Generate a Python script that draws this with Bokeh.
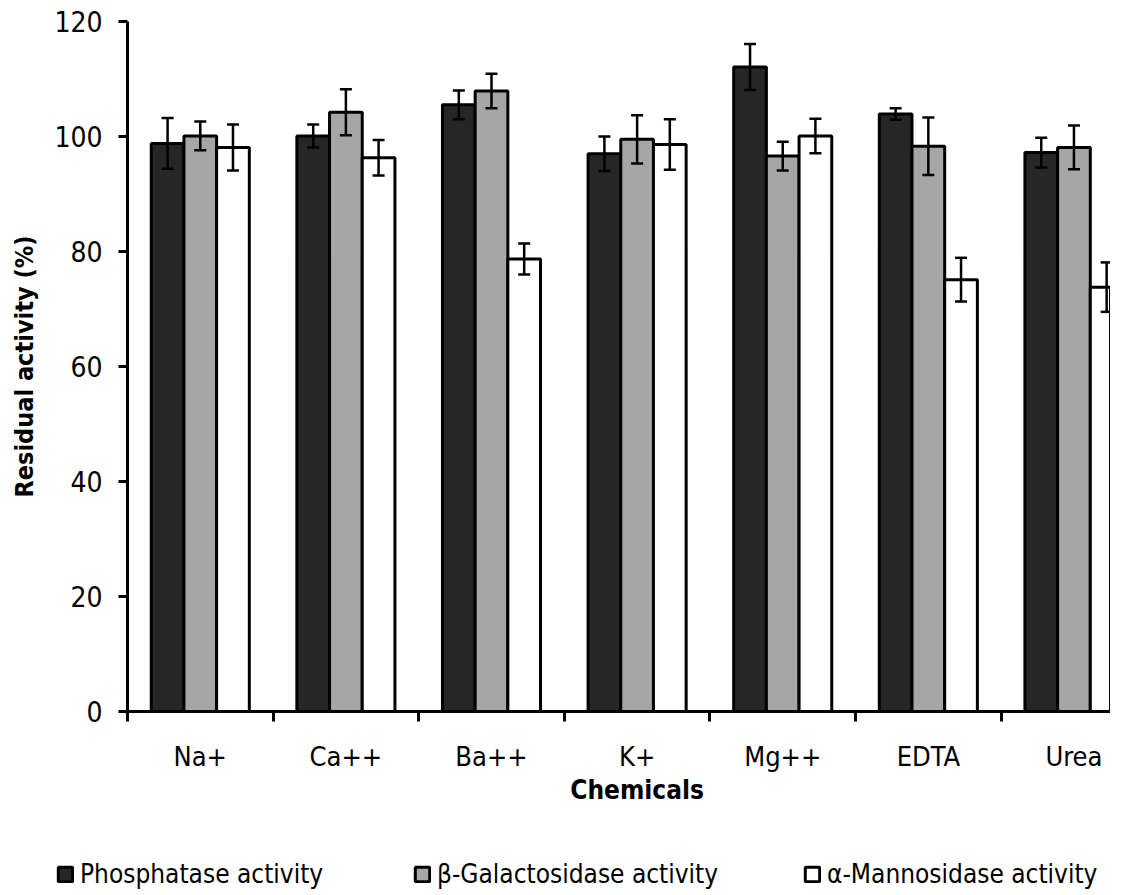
import numpy as np
from bokeh.plotting import figure
from bokeh.models import (ColumnDataSource, FixedTicker, Range1d, Whisker, TeeHead,
                          Legend, LegendItem, Label)
from bokeh.transform import dodge
from bokeh.embed import file_html
from bokeh.resources import INLINE

categories = ["Na+", "Ca++", "Ba++", "K+", "Mg++", "EDTA", "Urea"]
phosphatase = [98.8, 100.1, 105.5, 97.0, 112.1, 103.9, 97.2]
phosphatase_err = [4.4, 2.0, 2.5, 3.0, 4.0, 1.0, 2.6]
galactosidase = [100.1, 104.2, 107.9, 99.5, 96.6, 98.3, 98.1]
galactosidase_err = [2.5, 4.0, 3.0, 4.2, 2.5, 5.0, 3.8]
mannosidase = [98.1, 96.3, 78.7, 98.6, 100.1, 75.1, 73.8]
mannosidase_err = [4.0, 3.1, 2.7, 4.4, 3.0, 3.8, 4.3]
y_ticks = [0, 20, 40, 60, 80, 100, 120]
series_labels = ["Phosphatase activity", "\u03b2-Galactosidase activity", "\u03b1-Mannosidase activity"]

FONT = "DejaVu Sans Condensed, Liberation Sans, sans-serif"

xc = np.arange(len(categories)) + 0.5
src = ColumnDataSource(dict(
    xc=xc,
    p=phosphatase, p_lo=np.array(phosphatase) - np.array(phosphatase_err), p_hi=np.array(phosphatase) + np.array(phosphatase_err),
    g=galactosidase, g_lo=np.array(galactosidase) - np.array(galactosidase_err), g_hi=np.array(galactosidase) + np.array(galactosidase_err),
    m=mannosidase, m_lo=np.array(mannosidase) - np.array(mannosidase_err), m_hi=np.array(mannosidase) + np.array(mannosidase_err),
))

# the frame covers the whole canvas; axes are fixed inside it
p = figure(width=1110, height=889, output_backend="svg", toolbar_location=None,
           x_range=Range1d(-0.872, 6.751), y_range=Range1d(-30.96, 123.65),
           min_border_left=0, min_border_top=0, min_border_bottom=0, min_border_right=0)
p.outline_line_color = None
p.xgrid.visible = False
p.ygrid.visible = False
p.background_fill_color = "white"
p.border_fill_color = "white"

bw = 0.2245
off = 0.2245
fills = ["#262626", "#a6a6a6", "#ffffff"]
cols = ["p", "g", "m"]
rends = []
for i, (c, f) in enumerate(zip(cols, fills)):
    r = p.vbar(x=dodge("xc", (i - 1) * off, range=p.x_range), top=c, bottom=0, width=bw,
               source=src, fill_color=f, line_color="black", line_width=3)
    rends.append(r)
for i, c in enumerate(cols):
    w = Whisker(base=dodge("xc", (i - 1) * off, range=p.x_range), lower=c + "_lo", upper=c + "_hi",
                source=src, line_color="black", line_width=2.5, level="overlay",
                upper_head=TeeHead(size=12, line_width=2.5, line_color="black"),
                lower_head=TeeHead(size=12, line_width=2.5, line_color="black"))
    p.add_layout(w)

# y axis fixed at x = 0
ya = p.yaxis[0]
ya.fixed_location = 0
ya.bounds = (0, 120)
ya.ticker = FixedTicker(ticks=y_ticks)
ya.axis_line_width = 3
ya.major_tick_line_width = 3
ya.major_tick_out = 9
ya.major_tick_in = 0
ya.minor_tick_line_color = None
ya.major_label_text_font = FONT
ya.major_label_text_font_size = "28px"
ya.major_label_text_color = "black"
ya.major_label_standoff = 16

# x axis fixed at y = 0
xa = p.xaxis[0]
xa.fixed_location = 0
xa.bounds = (0, len(categories))
xa.ticker = FixedTicker(ticks=list(xc), minor_ticks=list(range(len(categories) + 1)))
xa.major_label_overrides = {float(x): c for x, c in zip(xc, categories)}
xa.axis_line_width = 3
xa.major_tick_line_color = None
xa.major_tick_out = 0
xa.major_tick_in = 0
xa.minor_tick_line_width = 3
xa.minor_tick_line_color = "black"
xa.minor_tick_out = 10
xa.minor_tick_in = 0
xa.major_label_text_font = FONT
xa.major_label_text_font_size = "27px"
xa.major_label_text_color = "black"
xa.major_label_standoff = 20

p.add_layout(Label(x=3.5, y=-13.6, text="Chemicals", text_font=FONT, text_font_style="bold",
                   text_font_size="26px", text_align="center", text_baseline="middle",
                   text_color="black"))
p.add_layout(Label(x=-0.71, y=60, text="Residual activity (%)", text_font=FONT,
                   text_font_style="bold", text_font_size="25px", text_align="center",
                   text_baseline="middle", angle=np.pi / 2, text_color="black"))

legend_x = [56, 413, 803]
for r, lab, lx in zip(rends, series_labels, legend_x):
    leg = Legend(items=[LegendItem(label=lab, renderers=[r])], location=(lx, 0),
                 padding=0, margin=0, border_line_color=None, background_fill_alpha=0,
                 glyph_width=18, glyph_height=18, label_standoff=6, label_height=18,
                 label_text_font=FONT, label_text_font_size="26px", label_text_color="black")
    p.add_layout(leg)

open("out.html", "w").write(file_html(p, INLINE))
